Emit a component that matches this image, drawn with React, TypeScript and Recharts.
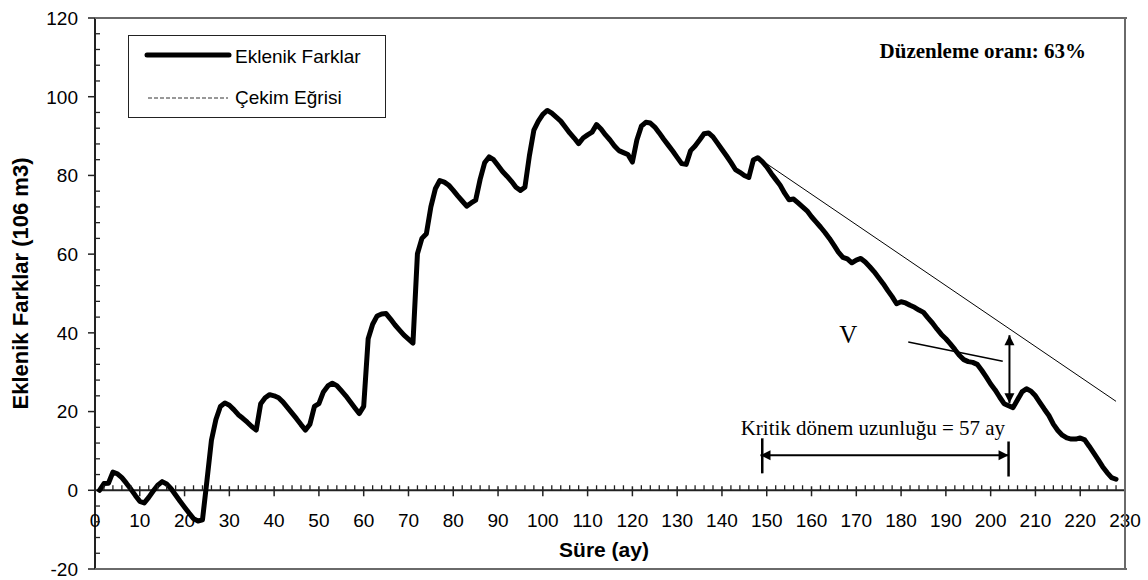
import React from 'react';
import { LineChart, Line, XAxis, YAxis, ReferenceLine, ReferenceDot, Legend } from 'recharts';

const CHART_W = 1148;
const CHART_H = 580;
const MARGIN = { top: 18, right: 23, bottom: 10, left: 35 };
const Y_AXIS_W = 60;
const X_AXIS_H = 1;
const Y_MIN = -20;
const Y_MAX = 120;
const X_MAX = 230;
const PLOT_H = CHART_H - MARGIN.top - MARGIN.bottom - X_AXIS_H;
const PLOT_W = CHART_W - MARGIN.left - MARGIN.right - Y_AXIS_W;
const PLOT_L = MARGIN.left + Y_AXIS_W;
const PLOT_T = MARGIN.top;
// the x axis crosses at y = 0, not at the bottom of the plot
const ZERO_OFFSET = (PLOT_H * (0 - Y_MIN)) / (Y_MAX - Y_MIN);

const SANS = '"Liberation Sans", Arial, sans-serif';
const SERIF = '"Liberation Serif", "Times New Roman", serif';
const FRAME_COLOR = '#6a6a6a';

const seriesNames = ['Eklenik Farklar', 'Çekim Eğrisi'];

// cumulative differences, month 1 .. 228
const firstMonth = 1;
const eklenikValues = [
  0, 1.7, 1.8, 4.6, 4.2, 3.2, 1.8, 0.3, -1.3, -2.8,
  -3.2, -1.8, -0.2, 1.3, 2.2, 1.6, 0.4, -1.2, -2.8, -4.3,
  -5.8, -7.2, -7.8, -7.5, 2.5, 12.7, 18, 21.3, 22.2, 21.6,
  20.5, 19.2, 18.3, 17.3, 16.2, 15.3, 22, 23.5, 24.3, 24,
  23.5, 22.4, 21, 19.6, 18.2, 16.7, 15.3, 16.8, 21.3, 22,
  25, 26.5, 27.2, 26.6, 25.3, 24, 22.5, 21, 19.5, 21.3,
  38.5, 42.2, 44.3, 44.8, 44.9, 43.5, 42, 40.7, 39.4, 38.4,
  37.4, 60.1, 64, 65.2, 72, 76.6, 78.7, 78.3, 77.5, 76.2,
  74.8, 73.5, 72.2, 73, 73.7, 79, 83.2, 84.7, 84, 82.5,
  81, 79.8, 78.5, 77, 76.2, 77, 85, 91.5, 93.8, 95.5,
  96.5, 95.8, 94.8, 93.8, 92.3, 90.8, 89.5, 88.1, 89.5, 90.3,
  91, 92.9, 91.8, 90.3, 89, 87.5, 86.3, 85.8, 85.3, 83.4,
  89, 92.5, 93.5, 93.3, 92.3, 90.8, 89.2, 87.7, 86.2, 84.6,
  83, 82.8, 86.3, 87.5, 89, 90.6, 90.8, 89.8, 88.2, 86.6,
  85, 83.3, 81.5, 80.8, 80, 79.5, 83.9, 84.5, 83.5, 82.2,
  80.5, 79, 77.5, 75.5, 73.8, 74, 73, 72, 71, 69.5,
  68.2, 66.9, 65.5, 64, 62.3, 60.5, 59.2, 58.8, 57.8, 58.5,
  58.9, 58, 56.8, 55.5, 54, 52.5, 50.8, 49.2, 47.4, 47.9,
  47.6, 47, 46.5, 45.8, 45.2, 43.8, 42.5, 41, 39.6, 38.5,
  37.2, 35.8, 34.3, 33.2, 32.7, 32.5, 32, 30.5, 28.8, 27,
  25.5, 23.7, 22, 21.5, 21, 23, 25, 25.8, 25.2, 24,
  22.3, 20.6, 19, 16.8, 15.2, 14, 13.3, 13, 13, 13.3,
  12.8, 11.2, 9.5, 7.8, 6, 4.5, 3.2, 2.8,
];

const cekimMonths = [148, 228];
const cekimValues = [84.5, 22.6];

const xMajorTicks = [0, 10, 20, 30, 40, 50, 60, 70, 80, 90, 100, 110, 120, 130, 140, 150, 160, 170, 180, 190, 200, 210, 220, 230];
const yMajorTicks = [-20, 0, 20, 40, 60, 80, 100, 120];
const X_MINOR_STEP = 2;
const Y_MINOR_STEP = 4;

const xTicks: number[] = [];
for (let t = 0; t <= X_MAX; t += X_MINOR_STEP) xTicks.push(t);
const yTicks: number[] = [];
for (let t = Y_MIN; t <= Y_MAX; t += Y_MINOR_STEP) yTicks.push(t);

const eklenikData = eklenikValues.map((v, i) => ({ m: firstMonth + i, v }));
const cekimData = cekimMonths.map((m, i) => ({ m, v: cekimValues[i] }));

const XTick = (props: any) => {
  const { x, y, payload } = props;
  const v = payload.value;
  const y0 = y - ZERO_OFFSET;
  if (!xMajorTicks.includes(v)) {
    return <line x1={x} x2={x} y1={y0 - 5} y2={y0} stroke="#222" strokeWidth={1.3} />;
  }
  return (
    <g>
      <line x1={x} x2={x} y1={y0 - 4} y2={y0 + 6} stroke="#222" strokeWidth={1.5} />
      <text x={x} y={y0 + 37} textAnchor="middle" fontFamily={SANS} fontSize={19} fill="#000">{v}</text>
    </g>
  );
};

const YTick = (props: any) => {
  const { x, y, payload } = props;
  const v = payload.value;
  if (!yMajorTicks.includes(v)) {
    return <line x1={x} x2={x + 5} y1={y} y2={y} stroke="#222" strokeWidth={1.3} />;
  }
  return (
    <g>
      <line x1={x - 7} x2={x} y1={y} y2={y} stroke="#222" strokeWidth={1.5} />
      <text x={x - 17} y={y} dy="0.36em" textAnchor="end" fontFamily={SANS} fontSize={19} fill="#000">{v}</text>
    </g>
  );
};

const head = (tx: number, ty: number, ux: number, uy: number) => {
  const L = 10;
  const W = 5;
  const bx = tx - ux * L;
  const by = ty - uy * L;
  return `${tx},${ty} ${bx - uy * W},${by + ux * W} ${bx + uy * W},${by - ux * W}`;
};

const arrowShape = (heads: boolean, width: number) => (props: any) => {
  const { x1, y1, x2, y2 } = props;
  const len = Math.hypot(x2 - x1, y2 - y1) || 1;
  const ux = (x2 - x1) / len;
  const uy = (y2 - y1) / len;
  return (
    <g>
      <line x1={x1} y1={y1} x2={x2} y2={y2} stroke="#000" strokeWidth={width} />
      {heads && <polygon points={head(x2, y2, ux, uy)} fill="#000" />}
      {heads && <polygon points={head(x1, y1, -ux, -uy)} fill="#000" />}
    </g>
  );
};

const textShape = (label: string, size: number, anchor: string, bold = false) => (props: any) => (
  <text x={props.cx} y={props.cy} textAnchor={anchor} fontFamily={SERIF} fontSize={size} fontWeight={bold ? 'bold' : 'normal'} fill="#000">
    {label}
  </text>
);

const renderLegend = () => (
  <svg width={258} height={83} style={{ display: 'block' }}>
    <rect x={0.5} y={0.5} width={257} height={82} fill="#fff" stroke="#222" strokeWidth={1} />
    <line x1={19} x2={101} y1={20} y2={20} stroke="#000" strokeWidth={5} strokeLinecap="round" />
    <text x={107} y={28} fontFamily={SANS} fontSize={19} fill="#000">{seriesNames[0]}</text>
    <line x1={20} x2={100} y1={63} y2={63} stroke="#333" strokeWidth={1} strokeDasharray="4 2" />
    <text x={107} y={69} fontFamily={SANS} fontSize={19} fill="#000">{seriesNames[1]}</text>
  </svg>
);

const bar = (left: number, top: number, width: number, height: number) => ({
  position: 'absolute' as const,
  left,
  top,
  width,
  height,
  background: FRAME_COLOR,
  zIndex: 10,
  pointerEvents: 'none' as const,
});

export default function App() {
  return (
    <div style={{ position: 'absolute', left: 0, top: 0, width: CHART_W, height: CHART_H, background: '#fff' }}>
      <LineChart width={CHART_W} height={CHART_H} margin={MARGIN}>
        <XAxis
          type="number"
          dataKey="m"
          domain={[0, X_MAX]}
          ticks={xTicks}
          interval={0}
          height={X_AXIS_H}
          axisLine={false}
          tickLine={false}
          tickSize={0}
          tickMargin={0}
          tick={<XTick />}
          label={(p: any) => (
            <text x={p.viewBox.x + p.viewBox.width / 2 - 6} y={p.viewBox.y - 12} textAnchor="middle" fontFamily={SANS} fontSize={21} fontWeight="bold" fill="#000">
              Süre (ay)
            </text>
          )}
        />
        <YAxis
          type="number"
          domain={[Y_MIN, Y_MAX]}
          ticks={yTicks}
          interval={0}
          width={Y_AXIS_W}
          axisLine={{ stroke: '#222', strokeWidth: 2 }}
          tickLine={false}
          tickSize={0}
          tickMargin={0}
          tick={<YTick />}
          label={(p: any) => {
            const cx = p.viewBox.x - 15;
            const cy = p.viewBox.y + p.viewBox.height / 2 - 10;
            return (
              <text x={cx} y={cy} transform={`rotate(-90 ${cx} ${cy})`} textAnchor="middle" dominantBaseline="central" fontFamily={SANS} fontSize={22} fontWeight="bold" fill="#000">
                Eklenik Farklar (106 m3)
              </text>
            );
          }}
        />
        <ReferenceLine y={0} stroke="#222" strokeWidth={2} />
        <Legend layout="vertical" align="center" verticalAlign="middle" content={renderLegend} wrapperStyle={{ position: 'absolute', left: 128, top: 35, width: 258, height: 83 }} />
        <Line data={cekimData} dataKey="v" name={seriesNames[1]} type="linear" stroke="#000" strokeWidth={1} dot={false} activeDot={false} isAnimationActive={false} />
        <Line data={eklenikData} dataKey="v" name={seriesNames[0]} type="linear" stroke="#000" strokeWidth={5} strokeLinejoin="round" strokeLinecap="round" dot={false} activeDot={false} isAnimationActive={false} />

        {/* V annotation */}
        <ReferenceLine segment={[{ x: 181.6, y: 37.7 }, { x: 202.7, y: 32.8 }]} ifOverflow="visible" shape={arrowShape(false, 1.5)} />
        <ReferenceLine segment={[{ x: 204.2, y: 22.1 }, { x: 204.2, y: 39.4 }]} ifOverflow="visible" shape={arrowShape(true, 2)} />
        <ReferenceDot x={168.2} y={37.4} ifOverflow="visible" shape={textShape('V', 25, 'middle')} />

        {/* kritik dönem */}
        <ReferenceLine segment={[{ x: 148.6, y: 8.9 }, { x: 204, y: 8.9 }]} ifOverflow="visible" shape={arrowShape(true, 2)} />
        <ReferenceLine segment={[{ x: 149, y: 4.3 }, { x: 149, y: 13.2 }]} ifOverflow="visible" shape={arrowShape(false, 2.5)} />
        <ReferenceLine segment={[{ x: 204, y: 3.5 }, { x: 204, y: 12.4 }]} ifOverflow="visible" shape={arrowShape(false, 2.5)} />
        <ReferenceDot x={173.7} y={14} ifOverflow="visible" shape={textShape('Kritik dönem uzunluğu = 57 ay', 21, 'middle')} />

        <ReferenceDot x={221.3} y={109.8} ifOverflow="visible" shape={textShape('Düzenleme oranı: 63%', 21, 'end', true)} />
      </LineChart>
      {/* gray frame on the top, right and bottom edges of the plot area */}
      <div style={bar(PLOT_L, PLOT_T - 1, PLOT_W + 2, 2)} />
      <div style={bar(PLOT_L + PLOT_W - 1, PLOT_T - 1, 2, PLOT_H + 2)} />
      <div style={bar(PLOT_L, PLOT_T + PLOT_H - 1, PLOT_W + 2, 2)} />
    </div>
  );
}
